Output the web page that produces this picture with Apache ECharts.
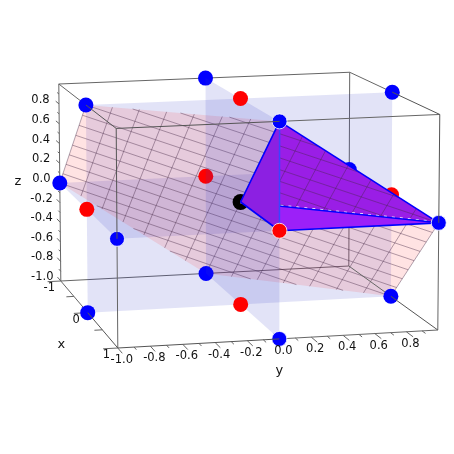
<!DOCTYPE html>
<html>
<head>
<meta charset="utf-8">
<style>html,body{margin:0;padding:0;background:#fff}#main{width:454px;height:454px}</style>
<script src="https://cdn.jsdelivr.net/npm/echarts@6/dist/echarts.min.js"></script>
</head>
<body>
<div id="main"></div>
<script>
// points of the cube, in plot coordinates [x, y, z]
var edgeMidpoints = [
  [-1, 0, 1], [0, 1, 1], [0, -1, 1], [1, 0, 1],
  [-1, -1, 0], [-1, 1, 0], [1, -1, 0], [1, 1, 0],
  [-1, 0, -1], [0, 1, -1], [0, -1, -1], [1, 0, -1]
];
var faceCentres = [[0, 0, 1], [0, 0, -1], [0, -1, 0], [0, 1, 0], [-1, 0, 0], [1, 0, 0]];
var bodyCentre = [[0, 0, 0]];

// translucent planes
var planeX = [[0, -1, 1], [0, 1, 1], [0, 1, -1], [0, -1, -1]];
var planeY = [[-1, 0, 1], [1, 0, 1], [1, 0, -1], [-1, 0, -1]];
var planeZ = [[-1, -1, 0], [1, -1, 0], [1, 1, 0], [-1, 1, 0]];

// pink surface z = x - y cut by the cube, and its mesh stops
var surfaceCorners = [[-1, -1, 0], [0, -1, 1], [1, 0, 1], [1, 1, 0], [0, 1, -1], [-1, 0, -1]];
var meshAcross = [-3/8, -2/8, -1/8, 0, 1/8, 2/8, 3/8, 4/8, 5/8, 6/8, 7/8, 1, 9/8, 10/8, 11/8];
var meshAlong = [0, 1/14, 2/14, 3/14, 4/14, 5/14, 6/14, 7/14, 8/14, 9/14, 10/14, 11/14, 12/14, 13/14, 1];

// purple tetrahedron
var tetraTop = [[0, 0, 0], [1, 0, 1], [1, 1, 0]];
var tetraBottom = [[0, 0, 0], [1, 0, 0], [1, 1, 0]];
var tetraLeft = [[0, 0, 0], [1, 0, 1], [1, 0, 0]];
var tetraEdges = [
  [[1, 0, 1], [0, 0, 0]], [[1, 0, 1], [1, 1, 0]],
  [[0, 0, 0], [1, 0, 0]], [[1, 0, 0], [1, 1, 0]]
];
var tetraVertical = [[[1, 0, 1], [1, 0, 0]]];
var tetraHidden = [[[0, 0, 0], [1, 1, 0]]];

// ticks
var xTicks = [-1, -0.5, 0, 0.5, 1];
var xLabels = [-1, 0, 1];
var yMinor = [-0.9, -0.7, -0.5, -0.3, -0.1, 0.1, 0.3, 0.5, 0.7, 0.9];
var yLabels = [-1.0, -0.8, -0.6, -0.4, -0.2, 0.0, 0.2, 0.4, 0.6, 0.8];
var zMinor = [-0.9, -0.7, -0.5, -0.3, -0.1, 0.1, 0.3, 0.5, 0.7, 0.9];
var zLabels = [-1.0, -0.8, -0.6, -0.4, -0.2, 0.0, 0.2, 0.4, 0.6, 0.8];

// camera: pixel of the (-1,-1,-1) corner and of its three neighbours, plus perspective terms
var camO = [60.8, 281], camX = [117.8, 348], camY = [348.8, 266], camZ = [58.8, 84];
var persX = -0.1048, persY = 0.0174, persZ = -0.01;

function project(p) {
  var s = (p[0] + 1) / 2, t = (p[1] + 1) / 2, r = (p[2] + 1) / 2;
  var w = 1 + persX * s + persY * t + persZ * r;
  return [0, 1].map(function (k) {
    return (camO[k]
      + s * (camX[k] * (1 + persX) - camO[k])
      + t * (camY[k] * (1 + persY) - camO[k])
      + r * (camZ[k] * (1 + persZ) - camO[k])) / w;
  });
}
function along(a, d, f) {
  return [a[0] + d[0] * f, a[1] + d[1] * f, a[2] + d[2] * f];
}
// cut a line a + f*d down to the cube
function clipToCube(a, d) {
  var lo = -Infinity, hi = Infinity;
  for (var k = 0; k < 3; k++) {
    if (d[k] === 0) continue;
    var f1 = (-1 - a[k]) / d[k], f2 = (1 - a[k]) / d[k];
    lo = Math.max(lo, Math.min(f1, f2));
    hi = Math.min(hi, Math.max(f1, f2));
  }
  return [along(a, d, lo), along(a, d, hi)];
}

// box edges: each edge is split at its sphere so the near half can run over it
var frontEdges = [], rearEdges = [], backEdges = [];
edgeMidpoints.forEach(function (m) {
  var a = m.slice(), b = m.slice();
  var k = m.indexOf(0);
  a[k] = -1; b[k] = 1;
  if (m[0] === -1) { backEdges.push([a, b]); return; }
  var near = k === 1 ? a : b;
  var far = k === 1 ? b : a;
  frontEdges.push([m, near]);
  rearEdges.push([m, far]);
});

// mesh lines on the surface
var meshStart = [-1, -1, 0], meshDirU = [1, 0, 1], meshDirV = [1, 2, -1];
var meshLines = [];
meshAcross.forEach(function (f) {
  meshLines.push(clipToCube(along(meshStart, meshDirU, f), meshDirV));
});
meshAlong.forEach(function (f) {
  meshLines.push(clipToCube(along(meshStart, meshDirV, f), meshDirU));
});

// tick marks
var tickSegs = [];
zLabels.forEach(function (v) { tickSegs.push([[-1.13, -1, v], [-1, -1, v]]); });
zMinor.forEach(function (v) { tickSegs.push([[-1.07, -1, v], [-1, -1, v]]); });
yLabels.forEach(function (v) { tickSegs.push([[1, v, -1], [1.14, v, -1]]); });
yMinor.forEach(function (v) { tickSegs.push([[1, v, -1], [1.07, v, -1]]); });
xTicks.forEach(function (v, i) { tickSegs.push([[v, -1, -1], [v, i % 2 ? -1.05 : -1.09, -1]]); });

var font = '11.5px "DejaVu Sans"';
var texts = [];
zLabels.forEach(function (v) { texts.push({ at: [-1, -1, v], dx: -18.5, dy: -4, text: v.toFixed(1) }); });
yLabels.forEach(function (v) { texts.push({ at: [1, v, -1], dx: 4, dy: 12, text: v.toFixed(1) }); });
xLabels.forEach(function (v) { texts.push({ at: [v, -1, -1], dx: -11.5, dy: 7, text: String(v) }); });
texts.push({ at: [1, 0, -1], dx: 0, dy: 32, text: 'y', big: true });
texts.push({ at: [0, -1, -1], dx: -26.5, dy: 32, text: 'x', big: true });
texts.push({ at: [-1, -1, 0], dx: -42, dy: -1, text: 'z', big: true });

function polySeries(polys, color, z) {
  return {
    type: 'custom', coordinateSystem: 'cartesian2d', z: z, silent: true, clip: false,
    data: polys.map(function (_, i) { return i; }),
    renderItem: function (params, api) {
      var pts = polys[params.dataIndex].map(function (p) { return api.coord(project(p)); });
      return { type: 'polygon', shape: { points: pts }, style: { fill: color } };
    }
  };
}
function lineSeries(segs, color, width, z, dash, clipTo) {
  return {
    type: 'custom', coordinateSystem: 'cartesian2d', z: z, silent: true, clip: false,
    data: segs.map(function (_, i) { return i; }),
    renderItem: function (params, api) {
      var seg = segs[params.dataIndex];
      var a = api.coord(project(seg[0])), b = api.coord(project(seg[1]));
      var el = {
        type: 'line',
        shape: { x1: a[0], y1: a[1], x2: b[0], y2: b[1] },
        style: { stroke: color, lineWidth: width, lineDash: dash || null }
      };
      if (clipTo) {
        el.clipPath = {
          type: 'polygon',
          shape: { points: clipTo.map(function (p) { return api.coord(project(p)); }) }
        };
      }
      return el;
    }
  };
}
function dotSeries(points, color, size, z, border) {
  return {
    type: 'scatter', z: z, silent: true, symbolSize: size,
    data: points.map(project),
    itemStyle: { color: color, opacity: 1, borderColor: border || color, borderWidth: border ? 1 : 0 }
  };
}
function onX(list, x) {
  return list.filter(function (p) { return p[0] === x; });
}

var blueTint = 'rgba(50,60,200,0.14)';
var meshColor = 'rgba(70,40,70,0.42)';
var myChart = echarts.init(document.getElementById('main'));
myChart.setOption({
  animation: false,
  backgroundColor: '#fff',
  grid: { left: 0, right: 0, top: 0, bottom: 0 },
  xAxis: { type: 'value', min: 0, max: 454, show: false },
  yAxis: { type: 'value', min: 0, max: 454, inverse: true, show: false },
  series: [
    lineSeries(backEdges, '#666', 1, 1),
    lineSeries(tickSegs, '#666', 1, 1),
    polySeries([planeX, planeZ], blueTint, 2),
    polySeries([surfaceCorners], 'rgba(255,60,60,0.14)', 3),
    lineSeries(meshLines, meshColor, 1, 3),
    dotSeries(onX(edgeMidpoints, -1), '#0000ff', 15, 4),
    dotSeries(onX(faceCentres, -1), '#ff0000', 15, 4),
    polySeries([planeY], blueTint, 5),
    lineSeries(rearEdges, '#666', 1, 5),
    dotSeries(onX(edgeMidpoints, 0), '#0000ff', 15, 6),
    dotSeries(onX(faceCentres, 0), '#ff0000', 15, 6),
    dotSeries(bodyCentre, '#000', 16, 6),
    polySeries([tetraTop], '#9a1ee6', 7),
    lineSeries(meshLines, meshColor, 1, 8, null, tetraTop),
    lineSeries(tetraHidden, '#fff', 3, 9, [3, 5]),
    polySeries([tetraBottom], '#9c20f8', 10),
    lineSeries(tetraHidden, '#0000ff', 1.5, 11),
    polySeries([tetraLeft], '#8c20e2', 12),
    lineSeries(tetraEdges, '#0000ff', 1.6, 13),
    lineSeries(tetraVertical, '#3a44ff', 1.5, 13),
    dotSeries(onX(edgeMidpoints, 1), '#0000ff', 15, 14, 'rgba(255,255,255,0.8)'),
    dotSeries(onX(faceCentres, 1), '#ff0000', 15, 14, 'rgba(255,255,255,0.8)'),
    lineSeries(frontEdges, '#555', 1, 15),
    {
      type: 'custom', coordinateSystem: 'cartesian2d', z: 16, silent: true, clip: false,
      data: texts.map(function (_, i) { return i; }),
      renderItem: function (params, api) {
        var t = texts[params.dataIndex];
        var a = api.coord(project(t.at));
        return {
          type: 'text',
          style: {
            x: a[0] + t.dx, y: a[1] + t.dy, text: t.text, fill: '#111',
            font: t.big ? '13px "DejaVu Sans"' : font, align: 'center', verticalAlign: 'middle'
          }
        };
      }
    }
  ]
});
</script>
</body>
</html>
